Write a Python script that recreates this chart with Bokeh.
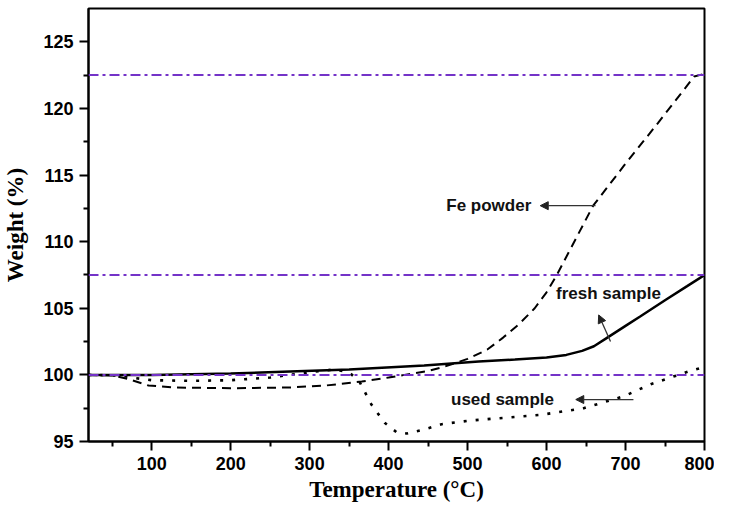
from bokeh.plotting import figure
from bokeh.models import FixedTicker, Label, Arrow, NormalHead, Span
from bokeh.embed import file_html
from bokeh.resources import INLINE

# ---- data ----
fe_T = [20, 50, 70, 96, 130, 200, 273, 320, 366, 400, 420, 450, 470, 500, 525, 545, 565, 585, 600, 613, 659, 698, 741, 787, 800]
fe_W = [100.0, 99.95, 99.7, 99.2, 99.05, 99.0, 99.05, 99.2, 99.5, 99.8, 100.0, 100.3, 100.6, 101.2, 101.9, 102.8, 103.8, 105.0, 106.2, 107.5, 112.7, 115.7, 118.9, 122.4, 122.6]

fresh_T = [20, 100, 200, 275, 350, 445, 514, 560, 600, 625, 645, 660, 677, 700, 719, 750, 778, 800]
fresh_W = [100.0, 100.0, 100.1, 100.25, 100.4, 100.7, 101.0, 101.15, 101.3, 101.5, 101.8, 102.15, 102.8, 103.68, 104.4, 105.6, 106.66, 107.5]

used_T = [20, 60, 80, 100, 150, 200, 250, 300, 330, 350, 363, 378, 395, 410, 423, 445, 467, 500, 530, 593, 647, 698, 732, 757, 782, 800]
used_W = [100.0, 99.95, 99.75, 99.6, 99.55, 99.6, 99.8, 100.2, 100.4, 100.2, 99.5, 97.8, 96.4, 95.7, 95.6, 95.9, 96.3, 96.55, 96.7, 97.0, 97.5, 98.4, 99.3, 99.8, 100.3, 100.6]

ref_levels = [100.0, 107.5, 122.5]

x_ticks = [100, 200, 300, 400, 500, 600, 700, 800]
x_minor = [50, 150, 250, 350, 450, 550, 650, 750]
y_ticks = [95, 100, 105, 110, 115, 120, 125]
y_minor = [97.5, 102.5, 107.5, 112.5, 117.5, 122.5]

labels = [
    ("Fe powder", 473, 112.75, 662, 112.7, 592, 112.7),
    ("fresh sample", 612, 106.1, 681, 102.5, 666, 104.5),
    ("used sample", 479, 98.15, 710, 98.15, 637, 98.15),
]

SANS = "Liberation Sans"
SERIF = "Liberation Serif"

p = figure(width=714, height=504, x_range=(20, 800), y_range=(95, 127.5),
           output_backend="svg", toolbar_location=None,
           min_border_left=88, min_border_right=10, min_border_top=8, min_border_bottom=53)

p.grid.visible = False
p.outline_line_color = "black"
p.outline_line_width = 2
p.background_fill_color = "white"
p.border_fill_color = "white"

for ax in (p.xaxis[0], p.yaxis[0]):
    ax.axis_line_width = 2
    ax.axis_line_color = "black"
    ax.major_tick_line_width = 2
    ax.minor_tick_line_width = 2
    ax.major_tick_out = 9
    ax.major_tick_in = 0
    ax.minor_tick_out = 5
    ax.minor_tick_in = 0
    ax.major_label_text_font = SANS
    ax.major_label_text_font_style = "bold"
    ax.major_label_text_font_size = "18px"
    ax.major_label_text_color = "black"
    ax.axis_label_text_font = SERIF
    ax.axis_label_text_font_style = "bold"
    ax.axis_label_text_font_size = "23px"
    ax.axis_label_text_color = "black"

p.xaxis.ticker = FixedTicker(ticks=x_ticks, minor_ticks=x_minor)
p.yaxis.ticker = FixedTicker(ticks=y_ticks, minor_ticks=y_minor)
p.xaxis.axis_label = "Temperature (°C)"
p.yaxis.axis_label = "Weight (%)"
p.xaxis.major_label_standoff = 6
p.yaxis.major_label_standoff = 6
p.xaxis.axis_label_standoff = 4
p.yaxis.axis_label_standoff = 12

# reference dash-dot lines
for lv in ref_levels:
    p.add_layout(Span(location=lv, dimension="width", line_color="#7433c8",
                      line_width=2, line_dash="10 4 3 4"))

# curves
p.line(fe_T, fe_W, line_color="black", line_width=2, line_dash="9 6")
p.line(fresh_T, fresh_W, line_color="black", line_width=2.5)
p.line(used_T, used_W, line_color="black", line_width=2.6, line_dash="3 9")

# annotations
for txt, tx, ty, ax0, ay0, ax1, ay1 in labels:
    p.add_layout(Label(x=tx, y=ty, text=txt, text_font=SANS, text_font_style="bold",
                       text_font_size="17px", text_color="#111111", text_baseline="middle"))
    p.add_layout(Arrow(x_start=ax0, y_start=ay0, x_end=ax1, y_end=ay1,
                       line_color="#333333", line_width=1.3,
                       end=NormalHead(size=8, fill_color="#222222", line_color="#222222")))

open("out.html", "w").write(file_html(p, INLINE))
